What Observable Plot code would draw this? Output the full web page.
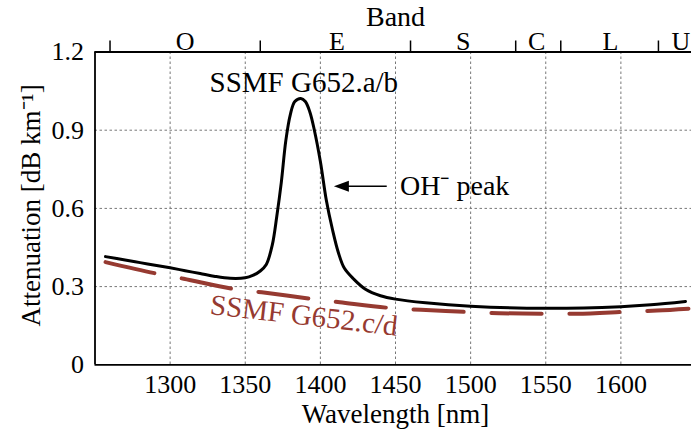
<!DOCTYPE html>
<html>
<head>
<meta charset="utf-8">
<script src="https://cdn.jsdelivr.net/npm/d3@7"></script>
<script src="https://cdn.jsdelivr.net/npm/@observablehq/plot@0.6"></script>
<style>
  html, body { margin: 0; padding: 0; background: white; }
  #chart { width: 691px; height: 432px; overflow: hidden; }
  #chart svg, #chart svg text { font-family: "Liberation Serif", "Times New Roman", serif !important; }
</style>
</head>
<body>
<div id="chart"></div>
<script>
// ---- data ----
const xTicks = [1300, 1350, 1400, 1450, 1500, 1550, 1600];
const yTicks = [0, 0.3, 0.6, 0.9, 1.2];
const yGrid = [0.3, 0.6, 0.9];
const bandEdges = [1260, 1360, 1460, 1530, 1560, 1625];
const bandNames = ["O", "E", "S", "C", "L", "U"];
const bandCenters = [1310, 1411, 1495, 1544, 1593, 1640];

// SSMF G652.a/b (black)
const abWavelength = [1257, 1270, 1280, 1290, 1300, 1310, 1320, 1330, 1340, 1350, 1355, 1360, 1364, 1368, 1371, 1374, 1377, 1380, 1383, 1387, 1390, 1393, 1396, 1400, 1404, 1408, 1412, 1416, 1422, 1430, 1440, 1450, 1470, 1500, 1550, 1600, 1620, 1643];
const abAttenuation = [0.415, 0.402, 0.392, 0.382, 0.372, 0.361, 0.350, 0.339, 0.332, 0.334, 0.343, 0.360, 0.385, 0.46, 0.57, 0.70, 0.86, 0.96, 1.01, 1.022, 1.01, 0.97, 0.90, 0.78, 0.63, 0.52, 0.43, 0.37, 0.33, 0.29, 0.265, 0.252, 0.238, 0.225, 0.217, 0.223, 0.230, 0.243];

// SSMF G652.c/d (red dashed)
const cdWavelength = [1257, 1290, 1309, 1342, 1361, 1394, 1413, 1448, 1467, 1500, 1519, 1552, 1571, 1605, 1624, 1645];
const cdAttenuation = [0.394, 0.351, 0.330, 0.291, 0.278, 0.253, 0.240, 0.217, 0.211, 0.202, 0.198, 0.196, 0.196, 0.204, 0.208, 0.215];

// annotations
const labelAB = {text: "SSMF G652.a/b", x: 1389, y: 1.084};
const labelCD = {text: "SSMF G652.c/d", x: 1389, y: 0.189};
const labelOH = {text: "OH\u207B peak", x: 1453, y: 0.685};
const arrowFrom = 1444.5, arrowTip = 1409, arrowY = 0.685;

const red = "#963a31";
const serif = "'Liberation Serif', 'Times New Roman', serif";

const abData = abWavelength.map((w, i) => ({w, a: abAttenuation[i]}));
const cdData = cdWavelength.map((w, i) => ({w, a: cdAttenuation[i]}));

const arrowHead = {
  draw(ctx) { ctx.moveTo(0, 0); ctx.lineTo(15, -5.5); ctx.lineTo(15, 5.5); ctx.closePath(); }
};

const chart = Plot.plot({
  width: 691,
  height: 432,
  marginLeft: 94.5,
  marginRight: 0,
  marginTop: 51.5,
  marginBottom: 67.7,
  style: {fontFamily: serif, fontSize: "26px", background: "white", color: "black"},
  x: {domain: [1250, 1650], range: [94.5, 695.5]},
  y: {domain: [0, 1.2], range: [364.3, 51.5]},
  marks: [
    // grid
    Plot.ruleX(xTicks, {stroke: "#777", strokeWidth: 1, strokeDasharray: "2.5,2.5"}),
    Plot.ruleY(yGrid, {stroke: "#777", strokeWidth: 1, strokeDasharray: "2.5,2.5"}),
    // curves
    Plot.line(cdData, {x: "w", y: "a", stroke: red, strokeWidth: 4, strokeDasharray: "50,28", curve: "catmull-rom"}),
    Plot.line(abData, {x: "w", y: "a", stroke: "black", strokeWidth: 3, curve: "catmull-rom"}),
    // frame
    Plot.ruleX([1250], {stroke: "black", strokeWidth: 1.8}),
    Plot.ruleY([0], {stroke: "black", strokeWidth: 1.8}),
    Plot.ruleY([1.2], {stroke: "black", strokeWidth: 1.8}),
    // axes
    Plot.axisX(xTicks, {tickSize: 0, tickPadding: 10, fontSize: 26, label: null, tickFormat: d => String(d)}),
    Plot.axisY(yTicks, {tickSize: 0, tickPadding: 11, fontSize: 26, label: null, tickFormat: d => d === 0 ? "0" : d.toFixed(1)}),
    Plot.axisX(bandEdges, {anchor: "top", tickSize: 12, strokeWidth: 1.5, tickFormat: () => "", label: null}),
    Plot.text(bandNames, {x: bandCenters, text: d => d, frameAnchor: "top", lineAnchor: "middle", dy: -10, fontSize: 26}),
    Plot.text(["Band"], {x: [1450], text: d => d, frameAnchor: "top", lineAnchor: "middle", dy: -35, fontSize: 28}),
    Plot.text(["Wavelength [nm]"], {x: [1450], text: d => d, frameAnchor: "bottom", lineAnchor: "middle", dy: 50, fontSize: 27}),
    Plot.text(["Attenuation [dB km\u207B\u00B9]"], {text: d => d, frameAnchor: "left", textAnchor: "middle", lineAnchor: "middle", dx: -63.5, dy: -3, rotate: -90, fontSize: 27}),
    // annotations
    Plot.text([labelAB], {x: "x", y: "y", text: "text", fontSize: 29}),
    Plot.text([labelCD], {x: "x", y: "y", text: "text", fontSize: 29, fill: red, rotate: 6.6}),
    Plot.text([labelOH], {x: "x", y: "y", text: "text", fontSize: 28, textAnchor: "start"}),
    Plot.ruleY([arrowY], {x1: arrowTip + 4, x2: arrowFrom, stroke: "black", strokeWidth: 1.6}),
    Plot.dot([{x: arrowTip, y: arrowY}], {x: "x", y: "y", symbol: arrowHead, fill: "black", stroke: "none", r: 5})
  ]
});
document.getElementById("chart").append(chart);
</script>
</body>
</html>
